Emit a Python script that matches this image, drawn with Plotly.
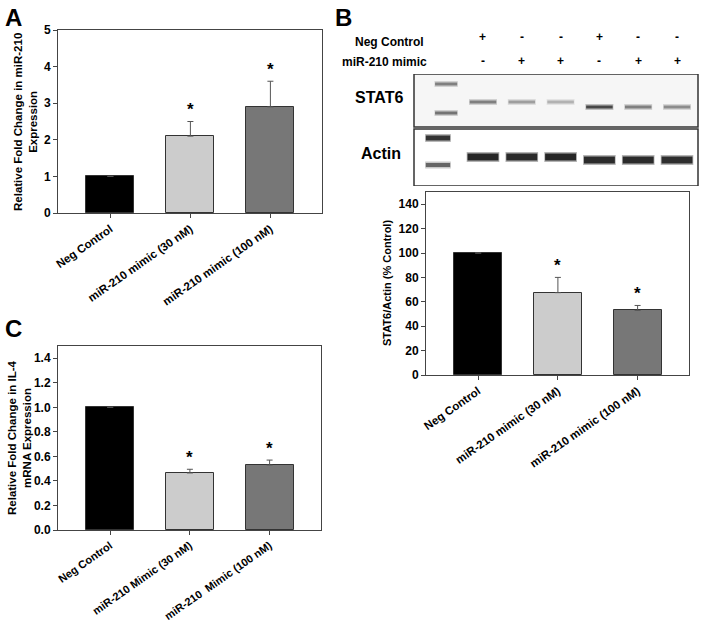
import plotly.graph_objects as go

# panel A - miR-210 qPCR
cats_a = ["Neg Control", "miR-210 mimic (30 nM)", "miR-210 mimic (100 nM)"]
mir210_fold = [1.0, 2.1, 2.9]
mir210_sem = [0, 0.4, 0.7]

# panel B - STAT6 western quantification
cats_b = ["Neg Control", "miR-210 mimic (30 nM)", "miR-210 mimic (100 nM)"]
stat6_pct = [100, 67.5, 53]
stat6_sem = [0, 12.5, 4]

# panel C - IL-4 qPCR
cats_c = ["Neg Control", "miR-210 Mimic (30 nM)", "miR-210\u00a0\u00a0Mimic (100 nM)"]
il4_fold = [1.0, 0.465, 0.53]
il4_sem = [0, 0.03, 0.04]

signif = [False, True, True]

# blot lanes
neg_control = ["+", "-", "-", "+", "-", "-"]
mimic = ["-", "+", "+", "-", "+", "+"]
stat6_darkness = [0.5, 0.38, 0.3, 0.72, 0.5, 0.45]
actin_darkness = [0.85, 0.83, 0.85, 0.83, 0.83, 0.82]
ladder_stat6 = [0.5, 0.55]
ladder_actin = [0.8, 0.6]

W, H = 702, 622
FONT = "Arial, Liberation Sans, sans-serif"
bar_colors = ["#000000", "#cccccc", "#777777"]


def px(x0, x1):
    return [x0 / W, x1 / W]


def py(top, bottom):
    return [1 - bottom / H, 1 - top / H]


def gray(d):
    v = int(round(255 * (1 - d)))
    return "rgb(%d,%d,%d)" % (v, v, v)


fig = go.Figure()

panels = [
    ("x", "y", mir210_fold, mir210_sem, cats_a),
    ("x2", "y2", stat6_pct, stat6_sem, cats_b),
    ("x3", "y3", il4_fold, il4_sem, cats_c),
]
for xa, ya, vals, sem, cats in panels:
    fig.add_trace(go.Bar(
        x=list(range(3)), y=vals, xaxis=xa, yaxis=ya, width=0.6,
        marker=dict(color=bar_colors, line=dict(color="#333333", width=1)),
        error_y=dict(type="data", array=sem, arrayminus=[0, 0, 0], symmetric=False,
                     color="#555555", thickness=1, width=3),
        showlegend=False, hoverinfo="skip"))
    for i in range(3):
        if signif[i]:
            fig.add_annotation(x=i, y=vals[i] + sem[i], xref=xa, yref=ya, text="*",
                               showarrow=False, xanchor="center", yanchor="middle", yshift=12,
                               font=dict(size=17, color="black", family=FONT, weight="bold"))


# western blot bands, drawn on their own lane axis
def band(xc, yc, half, thick, dark):
    fig.add_trace(go.Scatter(x=[xc - half, xc + half], y=[yc, yc], xaxis="x4", yaxis="y4",
                             mode="lines", line=dict(color=gray(dark * 0.35), width=thick + 3),
                             showlegend=False, hoverinfo="skip"))
    fig.add_trace(go.Scatter(x=[xc - half * 0.95, xc + half * 0.95], y=[yc, yc], xaxis="x4", yaxis="y4",
                             mode="lines", line=dict(color=gray(dark), width=thick),
                             showlegend=False, hoverinfo="skip"))


for k, d in enumerate(ladder_stat6):
    band(0.05, [10, 39][k], 0.3, 3, d)
for k, d in enumerate(ladder_actin):
    band(-0.16, [64, 91][k], 0.33, 5 - k, d)
for i in range(6):
    band(i + 1, 28 if i < 3 else 33, 0.36, 3, stat6_darkness[i])
    band(i + 1, 83 if i < 3 else 86, 0.42, 7, actin_darkness[i])

fig.add_shape(type="rect", xref="x4 domain", yref="y4", x0=0, x1=1, y0=0, y1=53, opacity=1,
              line=dict(color="#333333", width=1.5), fillcolor="#f6f6f6", layer="below")
fig.add_shape(type="rect", xref="x4 domain", yref="y4", x0=0, x1=1, y0=55, y1=112, opacity=1,
              line=dict(color="#333333", width=1.5), fillcolor="white", layer="below")

bold = dict(family=FONT, color="black", weight="bold")
for i in range(6):
    fig.add_annotation(x=i + 1, y=1 - 37 / H, xref="x4", yref="paper", text=neg_control[i],
                       showarrow=False, xanchor="center", yanchor="middle", font=dict(size=12, **bold))
    fig.add_annotation(x=i + 1, y=1 - 61 / H, xref="x4", yref="paper", text=mimic[i],
                       showarrow=False, xanchor="center", yanchor="middle", font=dict(size=12, **bold))

labels = [
    ("Neg Control", 426, 42, "right", 12),
    ("miR-210 mimic", 429, 62, "right", 12),
    ("STAT6", 379, 97, "center", 16),
    ("Actin", 381, 153, "center", 16),
]
for txt, x, y, anc, sz in labels:
    fig.add_annotation(x=x / W, y=1 - y / H, xref="paper", yref="paper", text=txt,
                       xanchor=anc, yanchor="middle", showarrow=False, font=dict(size=sz, **bold))

for letter, x, y in [("A", 3, 2), ("B", 333, 2), ("C", 3, 313)]:
    fig.add_annotation(x=x / W, y=1 - y / H, xref="paper", yref="paper", text=letter,
                       xanchor="left", yanchor="top", showarrow=False, font=dict(size=24, **bold))

ytitles = [
    ("Relative Fold Change in miR-210<br>Expression", 25, 122, 11.5),
    ("STAT6/Actin (% Control)", 387, 283, 11),
    ("Relative Fold Change in IL-4<br>mRNA Expression", 19, 438, 11.5),
]
for txt, x, y, sz in ytitles:
    fig.add_annotation(x=x / W, y=1 - y / H, xref="paper", yref="paper", text=txt,
                       textangle=-90, xanchor="center", yanchor="middle", showarrow=False,
                       font=dict(size=sz, **bold))

frame = dict(showline=True, linecolor="#444444", linewidth=1, mirror=True, showgrid=False,
             zeroline=False, ticks="outside", ticklen=4, tickcolor="#444444", automargin=False)
xcommon = dict(frame, range=[-0.655, 2.645], tickvals=[0, 1, 2], tickangle=-35,
               tickfont=dict(size=11.5, **bold))
ycommon = dict(frame, tickfont=dict(size=12, **bold))

fig.update_layout(
    width=W, height=H,
    margin=dict(l=0, r=0, t=0, b=0),
    template="simple_white",
    paper_bgcolor="white", plot_bgcolor="rgba(0,0,0,0)",
    font=dict(family=FONT, color="black"),
    bargap=0,
    xaxis=dict(xcommon, domain=px(58, 322), ticktext=cats_a, anchor="y"),
    yaxis=dict(ycommon, domain=py(30, 213), range=[0, 5], dtick=1, anchor="x"),
    xaxis2=dict(xcommon, domain=px(426, 689), ticktext=cats_b, anchor="y2"),
    yaxis2=dict(ycommon, domain=py(192, 375), range=[0, 150], tickvals=list(range(0, 141, 20)), anchor="x2"),
    xaxis3=dict(xcommon, domain=px(58, 321), ticktext=cats_c, anchor="y3",
                tickfont=dict(size=11, **bold)),
    yaxis3=dict(ycommon, domain=py(346, 530), range=[0, 1.5], tickvals=[0, 0.2, 0.4, 0.6, 0.8, 1.0, 1.2, 1.4],
                tickformat=".1f", anchor="x3"),
    xaxis4=dict(domain=px(414, 698), range=[-0.778, 6.541], visible=False, anchor="y4"),
    yaxis4=dict(domain=py(74, 186), range=[112, 0], visible=False, anchor="x4"),
)

# drop the browser's default 8px body margin so the figure sits at the window corner
fig.write_html("out.html", config={"displayModeBar": False},
               post_script="document.body.style.margin = '0';")
